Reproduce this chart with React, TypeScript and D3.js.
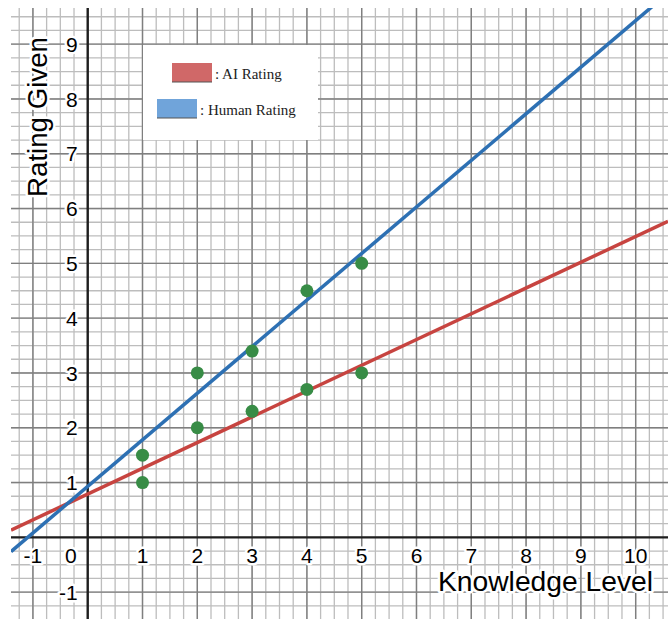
import * as d3 from 'd3';

// scatter data (knowledge level vs rating)
const knowledge = [1, 1, 2, 2, 3, 3, 4, 4, 5, 5];
const ratings = [1, 1.5, 2, 3, 2.3, 3.4, 2.7, 4.5, 3, 5];

// fitted lines
const fitNames = ['AI Rating', 'Human Rating'];
const fitSlopes = [0.47, 0.85];
const fitIntercepts = [0.79, 0.93];
const fitColors = ['#c74440', '#2d70b3'];
const swatchColors = ['#d06868', '#70a4da'];

const xTicks = [-1, 0, 1, 2, 3, 4, 5, 6, 7, 8, 9, 10];
const yTicks = [-1, 1, 2, 3, 4, 5, 6, 7, 8, 9];

const W = 668;
const H = 619;

export default function App() {
  const left = 11;
  const top = 8;
  const x = d3.scaleLinear().domain([-1.4, 10.59]).range([left, W]);
  const y = d3.scaleLinear().domain([-1.49, 9.66]).range([H, top]);

  const [x0, x1] = x.domain();
  const [y0, y1] = y.domain();
  const minorX = d3.range(Math.ceil(x0 * 4), Math.floor(x1 * 4) + 1).map((d) => d / 4);
  const minorY = d3.range(Math.ceil(y0 * 4), Math.floor(y1 * 4) + 1).map((d) => d / 4);
  const majorX = minorX.filter((d) => Number.isInteger(d) && d !== 0);
  const majorY = minorY.filter((d) => Number.isInteger(d) && d !== 0);

  const line = d3
    .line<number>()
    .x((d) => d[0])
    .y((d) => d[1]);

  const halo = {
    stroke: '#fff',
    strokeWidth: 5,
    paintOrder: 'stroke',
    strokeLinejoin: 'round' as const,
  };

  return (
    <svg
      width={W}
      height={H}
      style={{ position: 'absolute', left: 0, top: 0, background: '#fff' }}
      fontFamily='Liberation Sans, Arial, sans-serif'
    >
      <defs>
        <clipPath id='plot'>
          <rect x={left} y={top} width={W - left} height={H - top} />
        </clipPath>
      </defs>
      <g clipPath='url(#plot)'>
        {minorX.map((d) => (
          <line key={'mx' + d} x1={x(d)} x2={x(d)} y1={top} y2={H} stroke='#bdbdbd' strokeWidth={1.3} />
        ))}
        {minorY.map((d) => (
          <line key={'my' + d} y1={y(d)} y2={y(d)} x1={left} x2={W} stroke='#bdbdbd' strokeWidth={1.3} />
        ))}
        {majorX.map((d) => (
          <line key={'Mx' + d} x1={x(d)} x2={x(d)} y1={top} y2={H} stroke='#7f7f7f' strokeWidth={1.4} />
        ))}
        {majorY.map((d) => (
          <line key={'My' + d} y1={y(d)} y2={y(d)} x1={left} x2={W} stroke='#7f7f7f' strokeWidth={1.4} />
        ))}
        <line x1={x(0)} x2={x(0)} y1={top} y2={H} stroke='#1e1e1e' strokeWidth={2.4} />
        <line y1={y(0)} y2={y(0)} x1={left} x2={W} stroke='#1e1e1e' strokeWidth={2.4} />
      </g>

      {/* tick labels */}
      <g fontSize={21} fill='#000' style={halo}>
        {xTicks.map((d) => (
          <text
            key={'xt' + d}
            x={d === 0 ? x(0) - 11 : x(d)}
            y={y(0) + 26}
            textAnchor={d === 0 ? 'end' : 'middle'}
          >
            {d === -1 ? '-1' : d}
          </text>
        ))}
        {yTicks.map((d) => (
          <text key={'yt' + d} x={x(0) - 10} y={y(d)} dy='0.36em' textAnchor='end'>
            {d === -1 ? '-1' : d}
          </text>
        ))}
      </g>

      {/* axis titles */}
      <text x={438} y={591} fontSize={27} textLength={215} lengthAdjust='spacingAndGlyphs' style={halo}>
        Knowledge Level
      </text>
      <text
        transform={`translate(47,117) rotate(-90)`}
        textAnchor='middle'
        fontSize={27}
        textLength={160}
        lengthAdjust='spacingAndGlyphs'
        style={halo}
      >
        Rating Given
      </text>

      {/* legend */}
      <rect x={143} y={45} width={175} height={95} fill='#fff' />
      {fitNames.map((name, i) => {
        const sx = i === 0 ? 172 : 157;
        const sy = i === 0 ? 63 : 99;
        return (
          <g key={name}>
            <rect x={sx} y={sy} width={40} height={19} fill={swatchColors[i]} />
            <line x1={sx} x2={sx + 40} y1={sy + 19} y2={sy + 19} stroke='#555' strokeWidth={1} />
            <text x={sx + 43} y={sy + 16} fontFamily='Liberation Serif, Times New Roman, serif' fontSize={15} fill='#222'>
              : {name}
            </text>
          </g>
        );
      })}

      {/* fitted lines */}
      <g clipPath='url(#plot)'>
        {fitNames.map((name, i) => (
          <path
            key={name}
            d={
              line([
                [x(x0), y(fitIntercepts[i] + fitSlopes[i] * x0)],
                [x(x1), y(fitIntercepts[i] + fitSlopes[i] * x1)],
              ] as any) ?? ''
            }
            stroke={fitColors[i]}
            strokeWidth={3.5}
            fill='none'
          />
        ))}
      </g>

      {/* points */}
      {knowledge.map((k, i) => (
        <circle key={i} cx={x(k)} cy={y(ratings[i])} r={6.5} fill='#388c46' />
      ))}
    </svg>
  );
}
